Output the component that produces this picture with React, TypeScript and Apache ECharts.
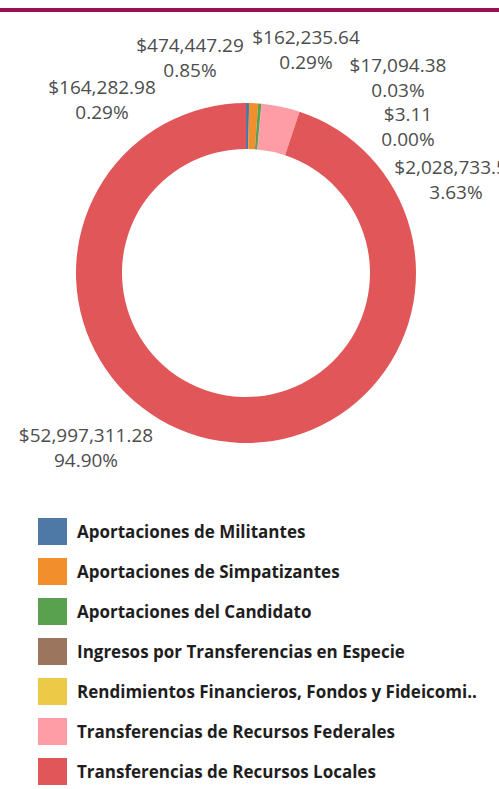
import React, { useEffect, useRef } from "react";
import * as echarts from "echarts";

const categories = [
  "Aportaciones de Militantes",
  "Aportaciones de Simpatizantes",
  "Aportaciones del Candidato",
  "Ingresos por Transferencias en Especie",
  "Rendimientos Financieros, Fondos y Fideicomisos",
  "Transferencias de Recursos Federales",
  "Transferencias de Recursos Locales",
];
const values = [164282.98, 474447.29, 162235.64, 17094.38, 3.11, 2028733.5, 52997311.28];
const colors = ["#4e79a7", "#f28e2b", "#59a14f", "#9c755f", "#edc948", "#ff9da7", "#e15759"];
// label anchor positions (layout only)
const labelPos: [number, number][] = [
  [102, 99],
  [190, 57],
  [306, 49],
  [398, 77],
  [408, 126],
  [456, 179],
  [86, 447],
];

const FONT = "'Open Sans', 'Noto Sans', sans-serif";

function fmtMoney(v: number) {
  return "$" + v.toLocaleString("en-US", { minimumFractionDigits: 2, maximumFractionDigits: 2 });
}

export default function App() {
  const ref = useRef<HTMLDivElement>(null);
  useEffect(() => {
    if (!ref.current) return;
    const chart = echarts.init(ref.current, undefined, { renderer: "svg" });
    const total = values.reduce((a, b) => a + b, 0);
    chart.setOption({
      animation: false,
      backgroundColor: "#ffffff",
      color: colors,
      graphic: [
        { type: "rect", shape: { x: 0, y: 8, width: 499, height: 4 }, style: { fill: "#990f56" } },
      ],
      legend: {
        orient: "vertical",
        left: 38,
        top: 518,
        padding: 0,
        itemWidth: 29,
        itemHeight: 27,
        itemGap: 13,
        icon: "rect",
        selectedMode: false,
        data: categories,
        formatter: (name: string) => (name.length > 44 ? name.slice(0, 44) + ".." : name),
        textStyle: {
          fontFamily: FONT,
          fontSize: 17,
          fontWeight: "bold",
          color: "#1e1e1e",
          padding: [0, 0, 0, 5],
        },
      },
      series: [
        {
          type: "pie",
          center: [246, 273],
          radius: [124, 170],
          startAngle: 90,
          clockwise: true,
          avoidLabelOverlap: false,
          data: categories.map((c, i) => ({ name: c, value: values[i] })),
          itemStyle: { borderWidth: 0 },
          emphasis: { disabled: true },
          labelLine: { show: false },
          label: {
            show: true,
            position: "outside",
            fontFamily: FONT,
            fontSize: 19,
            lineHeight: 25,
            color: "#4d4d4d",
            align: "center",
            formatter: (p: any) => fmtMoney(p.value) + "\n" + ((p.value / total) * 100).toFixed(2) + "%",
          },
          labelLayout: (params: any) => {
            const pos = labelPos[params.dataIndex];
            return { x: pos[0], y: pos[1], align: "center", verticalAlign: "middle", hideOverlap: false };
          },
        },
      ],
    });
    return () => chart.dispose();
  }, []);
  return <div ref={ref} style={{ position: "fixed", left: 0, top: 0, width: 499, height: 789 }} />;
}
